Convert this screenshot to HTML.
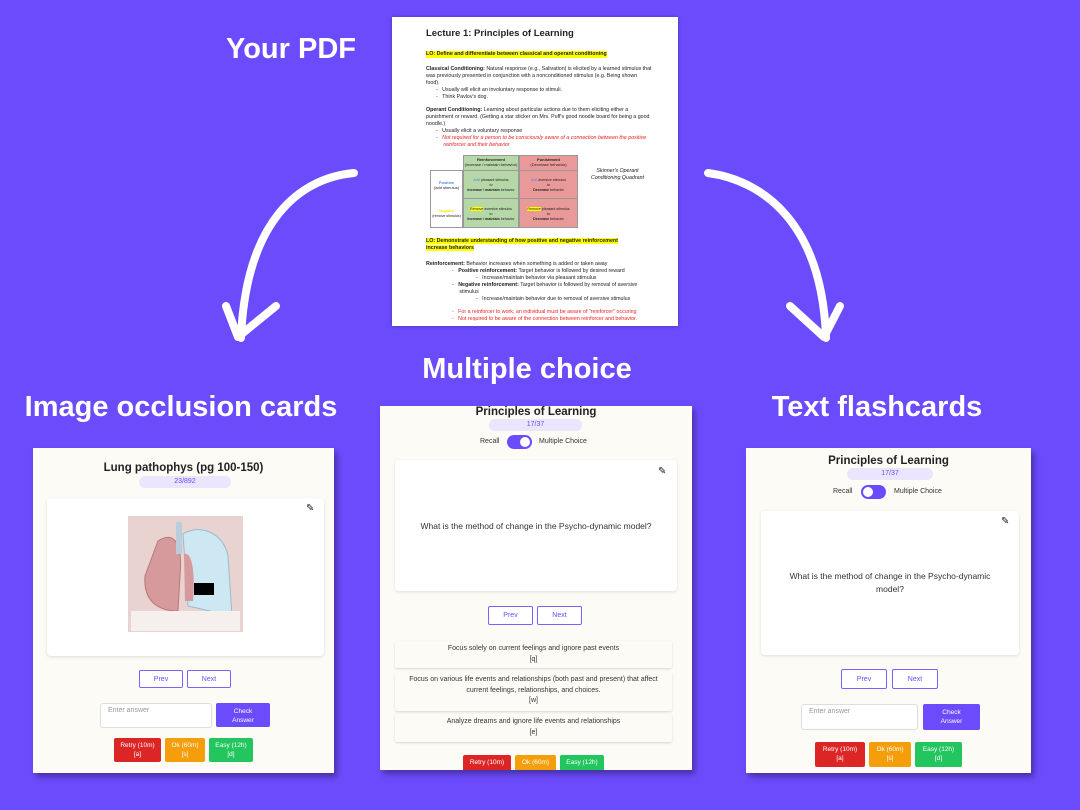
<!DOCTYPE html>
<html><head><meta charset="utf-8"><style>
*{margin:0;padding:0;box-sizing:border-box}
body{width:1080px;height:810px;background:#6c4bfd;position:relative;overflow:hidden;font-family:"Liberation Sans",sans-serif}
.a{position:absolute}
.h{color:#fff;font-weight:bold;font-size:29px;white-space:nowrap;transform:translateX(-50%)}
.pdf{left:392px;top:17px;width:286px;height:309px;background:#fff;box-shadow:0 0 4px rgba(0,0,0,.3)}
.pdf .a{font-size:5.3px;line-height:6.8px;color:#222;white-space:nowrap}
.card{background:#fdfbf5;box-shadow:3px 4px 6px rgba(0,0,0,.35)}
.t{font-weight:bold;color:#222;font-size:11.5px;text-align:center;white-space:nowrap}
.pill{background:#ebe6fd;border-radius:7px;color:#6c4bfd;font-size:7px;text-align:center}
.panel{background:#fff;border-radius:4px;box-shadow:0 1px 3px rgba(0,0,0,.12)}
.btn{border:1.5px solid #7b62ff;border-radius:2px;background:#fff;color:#6c4bfd;font-size:7px;display:flex;align-items:center;justify-content:center}
.fb{color:#fff;font-size:6.5px;text-align:center;border-radius:2px;line-height:9px;padding-top:3px}
.inp{background:#fff;border:1px solid #ddd;border-radius:3px;font-size:7px;color:#999;padding:3px 7px}
.chk{background:#6c4bfd;color:#fff;font-size:6.5px;text-align:center;border-radius:2px;line-height:9px;padding-top:4px}
.opt{background:#fdfbf5;box-shadow:0 1px 2px rgba(0,0,0,.15);font-size:7px;color:#333;text-align:center;line-height:10.5px;padding-top:3px;border-radius:2px}
.sm{font-size:7px;color:#333;white-space:nowrap}
.tog{width:25px;height:14px;background:#6c4bfd;border-radius:7px}
.tog i{position:absolute;top:2px;width:10px;height:10px;background:#fff;border-radius:50%}
.pen{font-size:10px;color:#111}
.q{font-size:8.5px;color:#333;text-align:center;line-height:13px}
</style></head><body>
<div class="a h" style="left:291px;top:33px">Your PDF</div>
<div class="a h" style="left:527px;top:353px">Multiple choice</div>
<div class="a h" style="left:181px;top:391px">Image occlusion cards</div>
<div class="a h" style="left:877px;top:391px">Text flashcards</div>

<svg class="a" style="left:0;top:0" width="1080" height="810">
<g fill="none" stroke="#fff" stroke-width="8" stroke-linecap="round" stroke-linejoin="round">
<path d="M354 173 C300 178 246 220 241 338"/>
<path d="M226 306 L238 337 L276 306"/>
<path d="M708 173 C760 180 822 220 826 338"/>
<path d="M790 306 L824 337 L840 306"/>
</g></svg>

<div class="a pdf">
<div class="a" style="left:34px;top:11px;font-size:9.5px;font-weight:bold;line-height:12px">Lecture 1: Principles of Learning</div>
<div class="a" style="left:34px;top:34px;background:#ff0;font-weight:bold">LO: Define and differentiate between classical and operant conditioning</div>
<div class="a" style="left:34px;top:49px"><b>Classical Conditioning:</b> Natural response (e.g., Salivation) is elicited by a learned stimulus that<br>was previously presented in conjunction with a nonconditioned stimulus (e.g. Being shown<br>food).</div>
<div class="a" style="left:44px;top:70px">-&nbsp;&nbsp;&nbsp;Usually will elicit an involuntary response to stimuli.<br>-&nbsp;&nbsp;&nbsp;Think Pavlov's dog.</div>
<div class="a" style="left:34px;top:90px"><b>Operant Conditioning:</b> Learning about particular actions due to them eliciting either a<br>punishment or reward. (Getting a star sticker on Mrs. Puff's good noodle board for being a good<br>noodle.)</div>
<div class="a" style="left:44px;top:111px">-&nbsp;&nbsp;&nbsp;Usually elicit a voluntary response</div>
<div class="a" style="left:44px;top:118px;color:#e22;font-style:italic">-&nbsp;&nbsp;&nbsp;Not required for a person to be consciously aware of a connection between the positive<br>&nbsp;&nbsp;&nbsp;&nbsp;&nbsp;reinforcer and their behavior</div>
<div class="a" style="left:71px;top:138px;width:56px;height:73px;background:#b6d7a8;border:1px solid #999"></div>
<div class="a" style="left:127px;top:138px;width:59px;height:73px;background:#ea9999;border:1px solid #999"></div>
<div class="a" style="left:38px;top:153px;width:33px;height:58px;border:1px solid #999"></div>
<div class="a" style="left:71px;top:153px;width:115px;height:29px;border-top:1px solid #999;border-bottom:1px solid #999"></div>
<div class="a" style="left:71px;top:140px;width:56px;font-size:4px;text-align:center;line-height:5px"><b>Reinforcement</b><br>(increase / maintain behavior)</div>
<div class="a" style="left:127px;top:140px;width:59px;font-size:4px;text-align:center;line-height:5px"><b>Punishment</b><br>(Decrease behavior)</div>
<div class="a" style="left:38px;top:163px;width:33px;font-size:4px;text-align:center;line-height:5px"><b style="color:#4a86e8">Positive</b><br>(add stimulus)</div>
<div class="a" style="left:38px;top:192px;width:33px;font-size:3.6px;text-align:center;line-height:5px"><b style="color:#ee0">Negative</b><br>(remove stimulus)</div>
<div class="a" style="left:71px;top:161px;width:56px;font-size:3.6px;text-align:center;line-height:5px"><span style="color:#4a86e8">Add</span> pleasant stimulus<br>to<br><b>Increase / maintain</b> behavior</div>
<div class="a" style="left:127px;top:161px;width:59px;font-size:3.6px;text-align:center;line-height:5px"><span style="color:#4a86e8">Add</span> aversive stimulus<br>to<br><b>Decrease</b> behavior</div>
<div class="a" style="left:71px;top:190px;width:56px;font-size:3.6px;text-align:center;line-height:5px"><span style="background:#ff0">Remove</span> aversive stimulus<br>to<br><b>Increase / maintain</b> behavior</div>
<div class="a" style="left:127px;top:190px;width:59px;font-size:3.6px;text-align:center;line-height:5px"><span style="background:#ff0">Remove</span> pleasant stimulus<br>to<br><b>Decrease</b> behavior</div>
<div class="a" style="left:199px;top:151px;font-style:italic;text-align:center">Skinner's Operant<br>Conditioning Quadrant</div>
<div class="a" style="left:34px;top:221px;font-weight:bold"><span style="background:#ff0">LO: Demonstrate understanding of how positive and negative reinforcement</span><br><span style="background:#ff0">increase behaviors</span></div>
<div class="a" style="left:34px;top:244px"><b>Reinforcement:</b> Behavior increases when something is added or taken away</div>
<div class="a" style="left:60px;top:251px">-&nbsp;&nbsp;&nbsp;<b>Positive reinforcement:</b> Target behavior is followed by desired reward</div>
<div class="a" style="left:84px;top:258px">-&nbsp;&nbsp;&nbsp;Increase/maintain behavior via pleasant stimulus</div>
<div class="a" style="left:60px;top:265px">-&nbsp;&nbsp;&nbsp;<b>Negative reinforcement:</b> Target behavior is followed by removal of aversive<br>&nbsp;&nbsp;&nbsp;&nbsp;&nbsp;stimulus</div>
<div class="a" style="left:84px;top:279px">-&nbsp;&nbsp;&nbsp;Increase/maintain behavior due to removal of aversive stimulus</div>
<div class="a" style="left:60px;top:292px;color:#e22">-&nbsp;&nbsp;&nbsp;For a reinforcer to work, an individual must be aware of "reinforcer" occuring<br>-&nbsp;&nbsp;&nbsp;Not required to be aware of the connection between reinforcer and behavior.</div>
</div>

<!-- left card -->
<div class="a card" style="left:33px;top:448px;width:301px;height:325px"></div>
<div class="a t" style="left:33px;top:462px;width:301px">Lung pathophys (pg 100-150)</div>
<div class="a pill" style="left:139px;top:476px;width:92px;height:12px;line-height:12px">23/892</div>
<div class="a panel" style="left:47px;top:498px;width:277px;height:158px"></div>
<div class="a pen" style="left:306px;top:503px">✎</div>
<svg class="a" style="left:128px;top:516px" width="115" height="116">
<rect width="115" height="116" fill="#e8d3d0"/>
<path d="M55 18 C70 8 95 15 100 40 L104 100 L60 90 Z" fill="#cde8f2" stroke="#9bc" stroke-width="1"/>
<path d="M30 25 C45 15 55 25 52 60 L50 95 C30 95 15 85 17 60 Z" fill="#d79a9c" stroke="#b77" stroke-width="1"/>
<path d="M56 38 C65 35 67 60 65 85 L57 85 Z" fill="#d79a9c"/>
<rect x="48" y="6" width="6" height="32" fill="#bcd"/>
<rect x="3" y="95" width="109" height="20" fill="#f5f0ee"/>
<rect x="66" y="67" width="20" height="12" fill="#000"/>
</svg>
<div class="a btn" style="left:139px;top:670px;width:44px;height:18px">Prev</div>
<div class="a btn" style="left:187px;top:670px;width:44px;height:18px">Next</div>
<div class="a inp" style="left:100px;top:703px;width:112px;height:25px">Enter answer</div>
<div class="a chk" style="left:216px;top:703px;width:54px;height:24px">Check<br>Answer</div>
<div class="a fb" style="left:114px;top:738px;width:47px;height:24px;background:#dc2626">Retry (10m)<br>[a]</div>
<div class="a fb" style="left:165px;top:738px;width:40px;height:24px;background:#f59e0b">Ok (60m)<br>[s]</div>
<div class="a fb" style="left:209px;top:738px;width:44px;height:24px;background:#22c55e">Easy (12h)<br>[d]</div>

<!-- middle card -->
<div class="a card" style="left:380px;top:406px;width:312px;height:364px"></div>
<div class="a t" style="left:380px;top:406px;width:312px">Principles of Learning</div>
<div class="a pill" style="left:489px;top:419px;width:93px;height:12px;line-height:12px">17/37</div>
<div class="a sm" style="left:480px;top:438px">Recall</div>
<div class="a tog" style="left:507px;top:435px"><i style="right:2px"></i></div>
<div class="a sm" style="left:539px;top:438px">Multiple Choice</div>
<div class="a panel" style="left:395px;top:460px;width:282px;height:131px"></div>
<div class="a pen" style="left:658px;top:466px">✎</div>
<div class="a q" style="left:395px;top:520px;width:282px">What is the method of change in the Psycho-dynamic model?</div>
<div class="a btn" style="left:488px;top:606px;width:45px;height:19px">Prev</div>
<div class="a btn" style="left:537px;top:606px;width:45px;height:19px">Next</div>
<div class="a opt" style="left:395px;top:641px;width:277px;height:27px">Focus solely on current feelings and ignore past events<br>[q]</div>
<div class="a opt" style="left:395px;top:672px;width:277px;height:39px">Focus on various life events and relationships (both past and present) that affect<br>current feelings, relationships, and choices.<br>[w]</div>
<div class="a opt" style="left:395px;top:714px;width:277px;height:28px">Analyze dreams and ignore life events and relationships<br>[e]</div>
<div class="a fb" style="left:463px;top:755px;width:48px;height:15px;background:#dc2626;border-radius:2px 2px 0 0">Retry (10m)</div>
<div class="a fb" style="left:515px;top:755px;width:41px;height:15px;background:#f59e0b;border-radius:2px 2px 0 0">Ok (60m)</div>
<div class="a fb" style="left:560px;top:755px;width:44px;height:15px;background:#22c55e;border-radius:2px 2px 0 0">Easy (12h)</div>

<!-- right card -->
<div class="a card" style="left:746px;top:448px;width:285px;height:325px"></div>
<div class="a t" style="left:746px;top:455px;width:285px">Principles of Learning</div>
<div class="a pill" style="left:847px;top:468px;width:86px;height:12px;line-height:12px">17/37</div>
<div class="a sm" style="left:833px;top:488px">Recall</div>
<div class="a tog" style="left:861px;top:485px"><i style="left:2px"></i></div>
<div class="a sm" style="left:894px;top:488px">Multiple Choice</div>
<div class="a panel" style="left:761px;top:511px;width:258px;height:144px"></div>
<div class="a pen" style="left:1001px;top:516px">✎</div>
<div class="a q" style="left:761px;top:570px;width:258px">What is the method of change in the Psycho-dynamic<br>model?</div>
<div class="a btn" style="left:841px;top:669px;width:46px;height:20px">Prev</div>
<div class="a btn" style="left:892px;top:669px;width:46px;height:20px">Next</div>
<div class="a inp" style="left:801px;top:704px;width:117px;height:26px">Enter answer</div>
<div class="a chk" style="left:923px;top:704px;width:57px;height:26px">Check<br>Answer</div>
<div class="a fb" style="left:815px;top:742px;width:50px;height:25px;background:#dc2626">Retry (10m)<br>[a]</div>
<div class="a fb" style="left:869px;top:742px;width:42px;height:25px;background:#f59e0b">Ok (60m)<br>[s]</div>
<div class="a fb" style="left:915px;top:742px;width:47px;height:25px;background:#22c55e">Easy (12h)<br>[d]</div>
</body></html>
